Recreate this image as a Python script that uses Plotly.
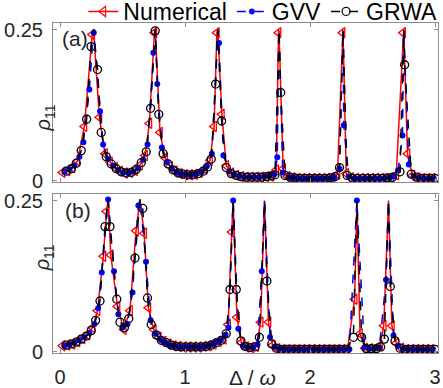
import plotly.graph_objects as go
from plotly.subplots import make_subplots

# ---------------- panel (a) ----------------
NUM_A_X = [0.02, 0.06, 0.10, 0.14, 0.195, 0.258, 0.315, 0.36, 0.40, 0.44, 0.48, 0.52, 0.56, 0.60, 0.64, 0.68,
           0.715, 0.755, 0.80, 0.84, 0.88, 0.92, 0.96, 1.00, 1.04, 1.08, 1.12, 1.16, 1.20, 1.233, 1.255, 1.295,
           1.33, 1.37, 1.41, 1.45, 1.49, 1.53, 1.57, 1.61, 1.65, 1.69, 1.73, 1.748, 1.785, 1.82, 1.86, 1.90,
           1.94, 1.98, 2.02, 2.06, 2.10, 2.14, 2.18, 2.22, 2.26, 2.29, 2.33, 2.37, 2.41, 2.45, 2.49, 2.53,
           2.57, 2.61, 2.65, 2.69, 2.745, 2.78, 2.82, 2.86, 2.90, 2.94, 2.98]
NUM_A_Y = [0.014, 0.017, 0.022, 0.033, 0.090, 0.242, 0.105, 0.045, 0.031, 0.022, 0.016, 0.013, 0.014, 0.017, 0.026, 0.042,
           0.095, 0.245, 0.080, 0.038, 0.024, 0.016, 0.012, 0.010, 0.010, 0.011, 0.014, 0.020, 0.034, 0.090, 0.245, 0.110,
           0.025, 0.013, 0.009, 0.007, 0.006, 0.006, 0.006, 0.006, 0.007, 0.008, 0.018, 0.245, 0.020, 0.007, 0.005, 0.004,
           0.004, 0.004, 0.004, 0.004, 0.004, 0.004, 0.005, 0.011, 0.245, 0.012, 0.005, 0.004, 0.004, 0.004, 0.004, 0.004,
           0.004, 0.004, 0.005, 0.010, 0.245, 0.045, 0.009, 0.005, 0.004, 0.004, 0.004]

GVV_A_X = [0.035, 0.075, 0.115, 0.155, 0.187, 0.235, 0.27, 0.32, 0.345, 0.385, 0.425, 0.465, 0.505, 0.545, 0.585, 0.625,
           0.665, 0.70, 0.747, 0.778, 0.815, 0.855, 0.895, 0.935, 0.975, 1.015, 1.055, 1.095, 1.135, 1.175, 1.215, 1.272,
           1.307, 1.355, 1.395, 1.435, 1.475, 1.515, 1.555, 1.595, 1.635, 1.675, 1.715, 1.738, 1.782, 1.835, 1.875, 1.915,
           1.955, 1.995, 2.035, 2.075, 2.115, 2.155, 2.195, 2.235, 2.27, 2.31, 2.35, 2.39, 2.43, 2.47, 2.51, 2.55,
           2.59, 2.63, 2.67, 2.705, 2.74, 2.79, 2.83, 2.87, 2.91, 2.95, 2.99]
GVV_A_Y = [0.015, 0.019, 0.025, 0.040, 0.064, 0.151, 0.245, 0.115, 0.060, 0.036, 0.025, 0.018, 0.014, 0.013, 0.015, 0.021,
           0.035, 0.060, 0.212, 0.160, 0.055, 0.031, 0.020, 0.014, 0.011, 0.010, 0.010, 0.012, 0.015, 0.024, 0.045, 0.228,
           0.042, 0.016, 0.010, 0.008, 0.006, 0.006, 0.006, 0.006, 0.007, 0.008, 0.011, 0.039, 0.014, 0.006, 0.005, 0.004,
           0.004, 0.004, 0.004, 0.004, 0.004, 0.004, 0.006, 0.020, 0.092, 0.007, 0.004, 0.004, 0.004, 0.004, 0.004, 0.004,
           0.004, 0.005, 0.007, 0.017, 0.075, 0.027, 0.008, 0.005, 0.004, 0.004, 0.004]

GRWA_A_X = [0.05, 0.09, 0.13, 0.17, 0.213, 0.248, 0.30, 0.33, 0.37, 0.41, 0.45, 0.49, 0.53, 0.57, 0.61, 0.65,
            0.69, 0.725, 0.762, 0.79, 0.825, 0.865, 0.905, 0.945, 0.985, 1.025, 1.065, 1.105, 1.145, 1.18, 1.21, 1.245,
            1.293, 1.33, 1.37, 1.41, 1.45, 1.49, 1.53, 1.57, 1.61, 1.65, 1.69, 1.72, 1.766, 1.80, 1.84, 1.88,
            1.92, 1.96, 2.00, 2.04, 2.08, 2.12, 2.16, 2.20, 2.236, 2.297, 2.34, 2.38, 2.42, 2.46, 2.50, 2.54,
            2.58, 2.62, 2.66, 2.72, 2.757, 2.81, 2.85, 2.89, 2.93, 2.97, 3.00]
GRWA_A_Y = [0.016, 0.020, 0.029, 0.050, 0.102, 0.222, 0.184, 0.080, 0.040, 0.028, 0.020, 0.015, 0.013, 0.014, 0.019, 0.030,
            0.048, 0.120, 0.248, 0.110, 0.045, 0.028, 0.018, 0.013, 0.011, 0.010, 0.010, 0.012, 0.016, 0.023, 0.036, 0.160,
            0.099, 0.022, 0.012, 0.009, 0.007, 0.006, 0.006, 0.006, 0.006, 0.007, 0.008, 0.010, 0.146, 0.009, 0.006, 0.005,
            0.004, 0.004, 0.004, 0.004, 0.004, 0.004, 0.005, 0.007, 0.022, 0.009, 0.004, 0.004, 0.004, 0.004, 0.004, 0.004,
            0.004, 0.005, 0.006, 0.015, 0.192, 0.011, 0.006, 0.004, 0.004, 0.004, 0.004]

# resonance tops (the curves run through them)
PEAK_A_X = [0.268, 0.762, 1.262, 1.752, 2.264, 2.75]
PEAK_A_Y = [0.25, 0.25, 0.25, 0.25, 0.25, 0.25]

# ---------------- panel (b) ----------------
NUM_B_X = [0.02, 0.06, 0.10, 0.14, 0.18, 0.22, 0.26, 0.30, 0.347, 0.372, 0.406, 0.46, 0.51, 0.56, 0.608, 0.673,
           0.707, 0.75, 0.79, 0.83, 0.87, 0.91, 0.95, 0.99, 1.03, 1.07, 1.11, 1.15, 1.19, 1.23, 1.27, 1.31,
           1.345, 1.374, 1.415, 1.45, 1.49, 1.53, 1.57, 1.605, 1.668, 1.70, 1.74, 1.78, 1.82, 1.86, 1.90, 1.94,
           1.98, 2.02, 2.06, 2.10, 2.14, 2.18, 2.22, 2.26, 2.30, 2.357, 2.40, 2.44, 2.48, 2.52, 2.56, 2.59,
           2.655, 2.69, 2.73, 2.77, 2.81, 2.85, 2.89, 2.93, 2.97]
NUM_B_Y = [0.010, 0.011, 0.013, 0.017, 0.022, 0.028, 0.040, 0.068, 0.158, 0.232, 0.160, 0.075, 0.037, 0.068, 0.200, 0.196,
           0.073, 0.037, 0.024, 0.017, 0.013, 0.010, 0.009, 0.008, 0.008, 0.008, 0.008, 0.009, 0.010, 0.013, 0.017, 0.021,
           0.045, 0.198, 0.057, 0.015, 0.008, 0.007, 0.009, 0.049, 0.049, 0.011, 0.005, 0.004, 0.004, 0.004, 0.004, 0.004,
           0.004, 0.004, 0.004, 0.004, 0.004, 0.004, 0.004, 0.004, 0.005, 0.087, 0.030, 0.006, 0.005, 0.005, 0.010, 0.043,
           0.043, 0.014, 0.006, 0.004, 0.004, 0.004, 0.004, 0.004, 0.004]

GVV_B_X = [0.035, 0.075, 0.115, 0.155, 0.195, 0.235, 0.275, 0.305, 0.334, 0.385, 0.432, 0.467, 0.50, 0.54, 0.58, 0.627,
           0.688, 0.725, 0.765, 0.805, 0.845, 0.885, 0.925, 0.965, 1.005, 1.045, 1.085, 1.125, 1.165, 1.205, 1.245, 1.285,
           1.325, 1.347, 1.385, 1.427, 1.465, 1.505, 1.545, 1.58, 1.614, 1.68, 1.715, 1.755, 1.795, 1.835, 1.875, 1.915,
           1.955, 1.995, 2.035, 2.075, 2.115, 2.155, 2.195, 2.235, 2.275, 2.315, 2.375, 2.435, 2.475, 2.515, 2.555, 2.608,
           2.668, 2.705, 2.745, 2.785, 2.825, 2.865, 2.905, 2.945, 2.985]
GVV_B_Y = [0.010, 0.012, 0.015, 0.019, 0.024, 0.031, 0.046, 0.072, 0.131, 0.252, 0.133, 0.062, 0.040, 0.046, 0.098, 0.242,
           0.149, 0.052, 0.030, 0.020, 0.015, 0.011, 0.009, 0.008, 0.008, 0.008, 0.008, 0.008, 0.009, 0.011, 0.015, 0.019,
           0.028, 0.040, 0.250, 0.038, 0.010, 0.007, 0.007, 0.012, 0.133, 0.024, 0.008, 0.005, 0.004, 0.004, 0.004, 0.004,
           0.004, 0.004, 0.004, 0.004, 0.004, 0.004, 0.004, 0.004, 0.004, 0.004, 0.250, 0.007, 0.005, 0.005, 0.007, 0.119,
           0.027, 0.010, 0.005, 0.004, 0.004, 0.004, 0.004, 0.004, 0.004]

GRWA_B_X = [0.05, 0.09, 0.13, 0.17, 0.21, 0.25, 0.285, 0.32, 0.36, 0.40, 0.454, 0.48, 0.515, 0.55, 0.60, 0.662,
            0.70, 0.73, 0.77, 0.81, 0.85, 0.89, 0.93, 0.97, 1.01, 1.05, 1.09, 1.13, 1.17, 1.21, 1.25, 1.29,
            1.33, 1.36, 1.41, 1.447, 1.48, 1.52, 1.56, 1.595, 1.655, 1.694, 1.73, 1.77, 1.81, 1.85, 1.89, 1.93,
            1.97, 2.01, 2.05, 2.09, 2.13, 2.17, 2.21, 2.25, 2.29, 2.347, 2.413, 2.45, 2.49, 2.53, 2.565, 2.595,
            2.642, 2.68, 2.72, 2.76, 2.80, 2.84, 2.88, 2.92, 2.96, 3.00]
GRWA_B_Y = [0.011, 0.013, 0.016, 0.021, 0.026, 0.035, 0.052, 0.084, 0.207, 0.207, 0.087, 0.049, 0.040, 0.055, 0.155, 0.237,
            0.089, 0.045, 0.028, 0.019, 0.015, 0.011, 0.009, 0.008, 0.008, 0.008, 0.008, 0.008, 0.009, 0.011, 0.015, 0.019,
            0.030, 0.103, 0.103, 0.018, 0.009, 0.007, 0.008, 0.024, 0.117, 0.013, 0.006, 0.004, 0.004, 0.004, 0.004, 0.004,
            0.004, 0.004, 0.004, 0.004, 0.004, 0.004, 0.004, 0.004, 0.004, 0.024, 0.024, 0.005, 0.005, 0.005, 0.008, 0.021,
            0.108, 0.018, 0.006, 0.004, 0.004, 0.004, 0.004, 0.004, 0.004, 0.004]

PEAK_B_X = [0.385, 0.64, 1.385, 1.636, 2.375, 2.628]
PEAK_B_Y = [0.252, 0.252, 0.25, 0.25, 0.25, 0.25]

FONT = "Liberation Sans, Arial, sans-serif"


def with_peaks(xs, ys, px, py):
    # markers at the sampled points, the line also passes through the resonance tops
    assert len(xs) == len(ys)
    pts = [(x, y, 1) for x, y in zip(xs, ys)] + [(x, y, 0) for x, y in zip(px, py)]
    pts.sort(key=lambda p: p[0])
    return [p[0] for p in pts], [p[1] for p in pts], [p[2] for p in pts]


styles = [
    ("Numerical", dict(color="#ff0000", width=1.5, dash="solid"),
     dict(symbol="triangle-left-open", size=9, color="#ff0000", line=dict(width=1.3))),
    ("GVV", dict(color="#0000ff", width=1.5, dash="dash"),
     dict(symbol="circle", size=6, color="#0000ff", line=dict(width=0))),
    ("GRWA", dict(color="#000000", width=1.5, dash="dash"),
     dict(symbol="circle-open", size=8, color="#000000", line=dict(width=1.3))),
]

panels = [
    (1, [(NUM_A_X, NUM_A_Y), (GVV_A_X, GVV_A_Y), (GRWA_A_X, GRWA_A_Y)], PEAK_A_X, PEAK_A_Y),
    (2, [(NUM_B_X, NUM_B_Y), (GVV_B_X, GVV_B_Y), (GRWA_B_X, GRWA_B_Y)], PEAK_B_X, PEAK_B_Y),
]

fig = make_subplots(rows=2, cols=1, vertical_spacing=0.036)

for row, series, px, py in panels:
    for (name, line, marker), (xs, ys) in zip(styles, series):
        x, y, vis = with_peaks(xs, ys, px, py)
        fig.add_trace(go.Scatter(
            x=x, y=y, mode="lines+markers", name=name,
            line=line, marker=dict(marker, opacity=vis),
            showlegend=(row == 1),
        ), row=row, col=1)

axis_common = dict(showline=True, linecolor="#8c8c8c", linewidth=1, mirror="ticks",
                   ticks="inside", ticklen=4, tickcolor="#8c8c8c",
                   showgrid=False, zeroline=False,
                   tickfont=dict(family=FONT, size=20, color="#262626"))

for row in (1, 2):
    fig.update_xaxes(range=[-0.056, 3.024], tickvals=[0, 1, 2, 3], ticklabelstandoff=6,
                     showticklabels=(row == 2), row=row, col=1, **axis_common)
    fig.update_yaxes(range=[-0.002, 0.261], tickvals=[0, 0.25], ticktext=["0", "0.25"],
                     ticklabelstandoff=5, row=row, col=1, **axis_common)

annotations = [
    dict(text="(a)", x=0.018, y=0.9545, xanchor="left", yanchor="middle", font_size=21),
    dict(text="(b)", x=0.026, y=0.433, xanchor="left", yanchor="middle", font_size=21),
    dict(text="<i>ρ</i><sub>11</sub>", x=-0.06, y=0.759, textangle=-90, font_size=20),
    dict(text="<i>ρ</i><sub>11</sub>", x=-0.06, y=0.241, textangle=-90, font_size=20),
    dict(text="Δ / <i>ω</i>", x=0.517, y=-0.074, yanchor="middle", font_size=21),
]
for a in annotations:
    a.update(xref="paper", yref="paper", showarrow=False)
    a["font"] = dict(family=FONT, size=a.pop("font_size"), color="#262626")

fig.update_layout(
    width=443, height=388,
    margin=dict(l=53, r=5, t=23, b=35, autoexpand=False),
    paper_bgcolor="white", plot_bgcolor="white",
    font=dict(family=FONT, color="#262626"),
    annotations=annotations,
    legend=dict(orientation="h", x=0.545, xanchor="center", y=1.035, yanchor="middle",
                font=dict(family=FONT, size=23, color="#000000"),
                bgcolor="rgba(0,0,0,0)"),
)

# page body without its default margin, so the figure sits at the window's corner
fig.write_html("out.html", config={"displayModeBar": False},
               post_script="document.body.style.margin='0';")
